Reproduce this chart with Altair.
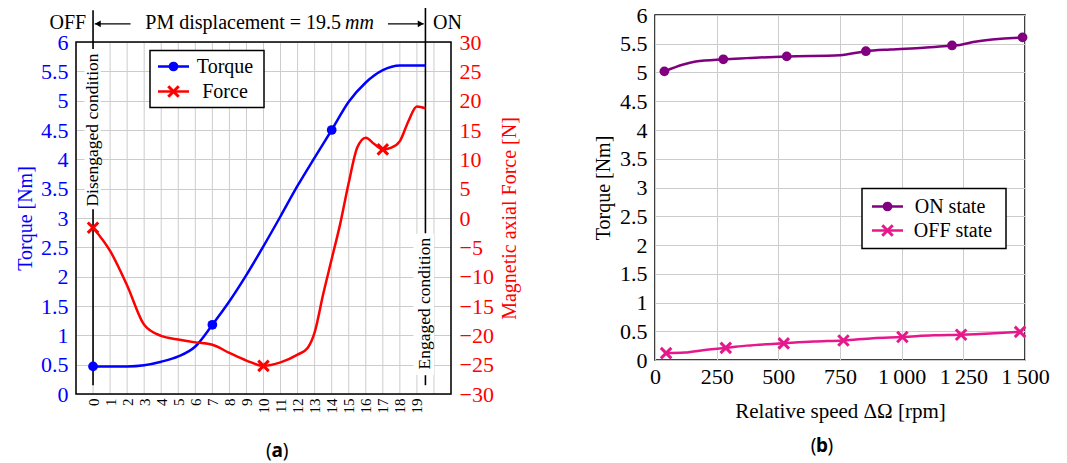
import altair as alt
import pandas as pd

FONT = "Liberation Serif"
CAP_FONT = "Noto Sans"

# ---------------- panel (a): torque / force vs PM displacement ----------------
disp_mm = [0, 1, 2, 3, 4, 5, 6, 7, 8, 9, 10, 11, 12, 13, 14, 15, 16, 17, 18, 19, 19.5]
torque_nm = [0.47, 0.47, 0.47, 0.49, 0.55, 0.64, 0.81, 1.18, 1.58, 2.03, 2.52, 3.03,
             3.55, 4.03, 4.5, 4.98, 5.31, 5.52, 5.6, 5.6, 5.6]
torque_mark_mm = [0, 7, 14]
torque_mark_nm = [0.47, 1.18, 4.5]

force_disp_mm = [0, 1, 2, 3, 4, 5, 6, 7, 8, 9, 10, 11, 12, 12.6, 13, 13.5, 14, 14.5,
                 15, 15.5, 16, 16.5, 17, 17.5, 18, 18.5, 19, 19.5]
force_n = [-1.65, -5.6, -11.5, -18.2, -20.1, -20.7, -21.2, -21.6, -23.0, -24.3, -25.2,
           -24.6, -23.3, -22.1, -19.5, -13.0, -7.0, -1.0, 6.0, 12.0, 13.7, 12.6, 11.7,
           12.0, 13.1, 16.5, 19.0, 18.7]
force_mark_mm = [0, 10, 17]
force_mark_n = [-1.65, -25.2, 11.7]

xa_ticks = [-1, 0, 1, 2, 3, 4, 5, 6, 7, 8, 9, 10, 11, 12, 13, 14, 15, 16, 17, 18, 19, 20, 21]
torque_ticks = [0, 0.5, 1, 1.5, 2, 2.5, 3, 3.5, 4, 4.5, 5, 5.5, 6]
force_ticks = [-30, -25, -20, -15, -10, -5, 0, 5, 10, 15, 20, 25, 30]

# ---------------- panel (b): torque vs relative speed ----------------
on_rpm = [38, 115, 165, 277, 372, 534, 750, 855, 953, 1088, 1204, 1236, 1290, 1490]
on_torque = [5.02, 5.14, 5.19, 5.23, 5.25, 5.28, 5.30, 5.37, 5.40, 5.43, 5.47, 5.48, 5.53, 5.61]
on_mark_rpm = [38, 277, 534, 855, 1204, 1490]
on_mark_torque = [5.02, 5.23, 5.28, 5.37, 5.47, 5.61]

off_rpm = [45, 120, 210, 287, 372, 522, 642, 764, 885, 1003, 1128, 1241, 1358, 1480]
off_torque = [0.12, 0.13, 0.18, 0.21, 0.25, 0.29, 0.32, 0.34, 0.38, 0.40, 0.43, 0.44, 0.46, 0.49]
off_mark_rpm = [45, 287, 522, 764, 1003, 1241, 1480]
off_mark_torque = [0.12, 0.21, 0.29, 0.34, 0.40, 0.44, 0.49]

xb_ticks = [0, 250, 500, 750, 1000, 1250, 1500]

BLUE = "#0000ff"
RED = "#ff0000"
PURPLE = "#800080"
MAGENTA = "#e6198c"
GRID = "#cccccc"
X_SHAPE = "M-1,-1L1,1M-1,1L1,-1"
LBL = 22

# panel (a) geometry: view is taller than the framed plot so that the
# annotation row above the frame lives inside it
A_W, A_H, A_TOP = 375, 379, 27


def one(**kw):
    return pd.DataFrame({k: [v] for k, v in kw.items()}) if kw else pd.DataFrame({"k": [0]})


# ---------- scales / axes (a) ----------
SX_A = alt.Scale(domain=[-1, 21], nice=False, zero=False)
AX_A = alt.Axis(values=xa_ticks,
                labelExpr="datum.value >= 0 && datum.value <= 19 ? datum.label : ''",
                labelAngle=270, labelFontSize=15, labelPadding=4, labelFlush=False,
                labelOverlap=False, labelColor="black", labelFont=FONT, ticks=False,
                domain=False, grid=False, title=None)
ST = alt.Scale(domain=[0, 6], nice=False, zero=False, range=[A_H, A_TOP])
AX_T = alt.Axis(orient="left", values=torque_ticks, format="~g", labelColor=BLUE,
                labelFont=FONT, labelFontSize=LBL, labelPadding=8, ticks=False, domain=False,
                grid=True, gridColor=GRID, gridWidth=1, title="Torque [Nm]", titleColor=BLUE,
                titleFont=FONT, titleFontSize=20, titlePadding=5, titleFontWeight="normal")
SF = alt.Scale(domain=[-30, 30], nice=False, zero=False, range=[A_H, A_TOP])
AX_F = alt.Axis(orient="right", values=force_ticks, format="d", labelColor=RED,
                labelFont=FONT, labelFontSize=LBL, labelPadding=8, ticks=False, domain=False,
                grid=False, title="Magnetic axial Force [N]", titleColor=RED, titleFont=FONT,
                titleFontSize=20, titlePadding=6, titleAngle=270, titleBaseline="top",
                titleFontWeight="normal")


def XA():
    return alt.X("x:Q", scale=SX_A, axis=AX_A)


def YT():
    return alt.Y("y:Q", scale=ST, axis=AX_T)


def YF():
    return alt.Y("y:Q", scale=SF, axis=AX_F)


torque_df = pd.DataFrame({"x": disp_mm, "y": torque_nm})
torque_mk = pd.DataFrame({"x": torque_mark_mm, "y": torque_mark_nm})
force_df = pd.DataFrame({"x": force_disp_mm, "y": force_n})
force_mk = pd.DataFrame({"x": force_mark_mm, "y": force_mark_n})

# vertical grid of panel (a), limited to the framed area
vgrid_df = pd.DataFrame({"x": xa_ticks, "y": [0] * len(xa_ticks), "y2": [6] * len(xa_ticks)})
vgrid = alt.Chart(vgrid_df).mark_rule(color=GRID, strokeWidth=1).encode(
    x=XA(), y=YT(), y2="y2:Q")

# vertical marker lines (OFF at 0, ON at 19.5) interrupted by labels
rule_df = pd.DataFrame({"x": [0, 0, 19.5, 19.5],
                        "y": [6.54, 0.15, 6.64, 0.15],
                        "y2": [5.88, 3.15, 2.74, 0.32]})
rules = alt.Chart(rule_df).mark_rule(color="black", strokeWidth=1.6).encode(
    x=XA(), y=YT(), y2="y2:Q")

wbox_df = pd.DataFrame({"x": [-0.5, 18.8], "x2": [0.45, 20.0],
                        "y": [3.15, 0.33], "y2": [5.88, 2.73]})
wboxes = alt.Chart(wbox_df).mark_rect(color="white").encode(
    x=XA(), x2="x2:Q", y=YT(), y2="y2:Q")

dis_txt = alt.Chart(one(x=0, y=4.5)).mark_text(
    text="Disengaged condition", angle=270, fontSize=17.5, align="center",
    baseline="middle", font=FONT).encode(x=XA(), y=YT())
eng_txt = alt.Chart(one(x=19.5, y=1.54)).mark_text(
    text="Engaged condition", angle=270, fontSize=17.5, align="center",
    baseline="middle", font=FONT).encode(x=XA(), y=YT())

top_y = 6.32
off_txt = alt.Chart(one(x=-0.4, y=top_y)).mark_text(
    text="OFF", fontSize=20, align="right", baseline="middle", font=FONT).encode(x=XA(), y=YT())
on_txt = alt.Chart(one(x=19.95, y=top_y)).mark_text(
    text="ON", fontSize=20, align="left", baseline="middle", font=FONT).encode(x=XA(), y=YT())
pm_txt = alt.Chart(one(x=14.55, y=top_y)).mark_text(
    text="PM displacement = 19.5", fontSize=20, align="right", baseline="middle",
    font=FONT).encode(x=XA(), y=YT())
mm_txt = alt.Chart(one(x=14.78, y=top_y)).mark_text(
    text="mm", fontSize=20, align="left", baseline="middle", font=FONT,
    fontStyle="italic").encode(x=XA(), y=YT())

arrow_df = pd.DataFrame({"x": [0.1, 17.3], "x2": [2.2, 19.4], "y": [6.31, 6.31]})
arrows = alt.Chart(arrow_df).mark_rule(color="black", strokeWidth=1.3).encode(
    x=XA(), x2="x2:Q", y=YT())
head_l = alt.Chart(one(x=0.28, y=6.31)).mark_point(
    shape="triangle-left", filled=True, color="black", size=45, opacity=1).encode(x=XA(), y=YT())
head_r = alt.Chart(one(x=19.22, y=6.31)).mark_point(
    shape="triangle-right", filled=True, color="black", size=45, opacity=1).encode(x=XA(), y=YT())

torque_line = alt.Chart(torque_df).mark_line(
    color=BLUE, strokeWidth=2.5, interpolate="monotone").encode(x=XA(), y=YT())
torque_pts = alt.Chart(torque_mk).mark_point(
    shape="circle", filled=True, color=BLUE, size=95, opacity=1).encode(x=XA(), y=YT())

# captions
CAP_A_Y = 435.5
cap_a = [
    alt.Chart(one(x=10.8)).mark_text(text="(", fontSize=19, align="right", dx=-5.5,
                                     baseline="middle", font=CAP_FONT)
    .encode(x=XA(), y=alt.value(CAP_A_Y)),
    alt.Chart(one(x=10.8)).mark_text(text="a", fontSize=19, align="center", fontWeight="bold",
                                     baseline="middle", font=CAP_FONT)
    .encode(x=XA(), y=alt.value(CAP_A_Y)),
    alt.Chart(one(x=10.8)).mark_text(text=")", fontSize=19, align="left", dx=5.5,
                                     baseline="middle", font=CAP_FONT)
    .encode(x=XA(), y=alt.value(CAP_A_Y)),
]

frame_a = alt.Chart(one()).mark_rect(filled=False, stroke="black", strokeWidth=1.5).encode(
    x=alt.value(0), x2=alt.value(A_W), y=alt.value(A_TOP), y2=alt.value(A_H))

# legend (a)
LA1, LA2 = 51.5, 76.5
leg_a = [
    alt.Chart(one()).mark_rect(fill="white", stroke="black", strokeWidth=1.5).encode(
        x=alt.value(74), x2=alt.value(188), y=alt.value(35.5), y2=alt.value(92.5)),
    alt.Chart(one()).mark_rule(color=BLUE, strokeWidth=2.5).encode(
        x=alt.value(82), x2=alt.value(113), y=alt.value(LA1)),
    alt.Chart(one()).mark_point(shape="circle", filled=True, color=BLUE, size=95, opacity=1).encode(
        x=alt.value(97.5), y=alt.value(LA1)),
    alt.Chart(one()).mark_text(text="Torque", fontSize=20, align="center", baseline="middle",
                               font=FONT).encode(x=alt.value(149), y=alt.value(LA1)),
    alt.Chart(one()).mark_rule(color=RED, strokeWidth=2.5).encode(
        x=alt.value(82), x2=alt.value(113), y=alt.value(LA2)),
    alt.Chart(one()).mark_point(shape=X_SHAPE, filled=False, color=RED, size=110,
                                strokeWidth=3, opacity=1).encode(
        x=alt.value(97.5), y=alt.value(LA2)),
    alt.Chart(one()).mark_text(text="Force", fontSize=20, align="center", baseline="middle",
                               font=FONT).encode(x=alt.value(149), y=alt.value(LA2)),
]

torque_group = alt.layer(
    vgrid, wboxes, rules, dis_txt, eng_txt, off_txt, on_txt, pm_txt, mm_txt, arrows,
    head_l, head_r, torque_line, torque_pts, *cap_a
)

force_line = alt.Chart(force_df).mark_line(
    color=RED, strokeWidth=2.5, interpolate="monotone").encode(x=XA(), y=YF())
force_pts = alt.Chart(force_mk).mark_point(
    shape=X_SHAPE, filled=False, color=RED, size=110, strokeWidth=3, opacity=1).encode(
    x=XA(), y=YF())
force_group = alt.layer(force_line, force_pts)

legend_a = alt.layer(frame_a, *leg_a)

panel_a = alt.layer(torque_group, force_group, legend_a).resolve_scale(
    y="independent").properties(width=A_W, height=A_H,
                                view=alt.ViewBackground(stroke="transparent"))

# ---------- panel (b) ----------
SX_B = alt.Scale(domain=[0, 1500], nice=False, zero=False)
AX_XB = alt.Axis(values=xb_ticks,
                 labelExpr="datum.value >= 1000 ? replace(format(datum.value, ','), ',', '\u2009') : datum.label",
                 labelFont=FONT, labelFontSize=LBL, labelPadding=6, labelFlush=False,
                 labelOverlap=False, labelColor="black", ticks=False, domain=False, grid=True,
                 gridColor=GRID, gridWidth=1, title="Relative speed \u0394\u03a9 [rpm]",
                 titleFont=FONT, titleFontSize=21, titlePadding=13, titleColor="black",
                 titleFontWeight="normal")
SY_B = alt.Scale(domain=[0, 6], nice=False, zero=False)
AX_YB = alt.Axis(values=torque_ticks, format="~g", labelFont=FONT, labelFontSize=LBL,
                 labelPadding=8, labelColor="black", ticks=False, domain=False, grid=True,
                 gridColor=GRID, gridWidth=1, title="Torque [Nm]", titleFont=FONT,
                 titleFontSize=20, titlePadding=6, titleColor="black",
                 titleFontWeight="normal")


def XB():
    return alt.X("x:Q", scale=SX_B, axis=AX_XB)


def YB():
    return alt.Y("y:Q", scale=SY_B, axis=AX_YB)


on_df = pd.DataFrame({"x": on_rpm, "y": on_torque})
on_mk = pd.DataFrame({"x": on_mark_rpm, "y": on_mark_torque})
off_df = pd.DataFrame({"x": off_rpm, "y": off_torque})
off_mk = pd.DataFrame({"x": off_mark_rpm, "y": off_mark_torque})

on_line = alt.Chart(on_df).mark_line(color=PURPLE, strokeWidth=2.5, interpolate="monotone").encode(
    x=XB(), y=YB())
on_pts = alt.Chart(on_mk).mark_point(shape="circle", filled=True, color=PURPLE, size=95,
                                     opacity=1).encode(x=XB(), y=YB())
off_line = alt.Chart(off_df).mark_line(color=MAGENTA, strokeWidth=2.5,
                                       interpolate="monotone").encode(x=XB(), y=YB())
off_pts = alt.Chart(off_mk).mark_point(shape=X_SHAPE, filled=False, color=MAGENTA, size=110,
                                       strokeWidth=3, opacity=1).encode(x=XB(), y=YB())

LB1, LB2 = 191.5, 215.5
leg_b = [
    alt.Chart(one()).mark_rect(fill="white", stroke="black", strokeWidth=1.5).encode(
        x=alt.value(207), x2=alt.value(351), y=alt.value(173.5), y2=alt.value(233.5)),
    alt.Chart(one()).mark_rule(color=PURPLE, strokeWidth=2.5).encode(
        x=alt.value(217), x2=alt.value(248), y=alt.value(LB1)),
    alt.Chart(one()).mark_point(shape="circle", filled=True, color=PURPLE, size=95, opacity=1).encode(
        x=alt.value(232.5), y=alt.value(LB1)),
    alt.Chart(one()).mark_text(text="ON state", fontSize=20, align="center", baseline="middle",
                               font=FONT).encode(x=alt.value(295), y=alt.value(LB1)),
    alt.Chart(one()).mark_rule(color=MAGENTA, strokeWidth=2.5).encode(
        x=alt.value(217), x2=alt.value(248), y=alt.value(LB2)),
    alt.Chart(one()).mark_point(shape=X_SHAPE, filled=False, color=MAGENTA, size=110,
                                strokeWidth=3, opacity=1).encode(
        x=alt.value(232.5), y=alt.value(LB2)),
    alt.Chart(one()).mark_text(text="OFF state", fontSize=20, align="center", baseline="middle",
                               font=FONT).encode(x=alt.value(298), y=alt.value(LB2)),
]

CAP_B_Y = 430.5
cap_b = [
    alt.Chart(one(x=677)).mark_text(text="(", fontSize=19, align="right", dx=-5.5,
                                    baseline="middle", font=CAP_FONT)
    .encode(x=XB(), y=alt.value(CAP_B_Y)),
    alt.Chart(one(x=677)).mark_text(text="b", fontSize=19, align="center", fontWeight="bold",
                                    baseline="middle", font=CAP_FONT)
    .encode(x=XB(), y=alt.value(CAP_B_Y)),
    alt.Chart(one(x=677)).mark_text(text=")", fontSize=19, align="left", dx=5.5,
                                    baseline="middle", font=CAP_FONT)
    .encode(x=XB(), y=alt.value(CAP_B_Y)),
]

panel_b = alt.layer(on_line, on_pts, off_line, off_pts, *cap_b, *leg_b).properties(
    width=370, height=345)

chart = alt.hconcat(panel_a, panel_b, spacing=71).properties(
    padding={"left": 6, "top": -6, "right": 5, "bottom": 0},
    background="white",
).configure_view(
    stroke="black", strokeWidth=1.5
).configure_axis(
    labelFont=FONT, titleFont=FONT
).configure_text(
    font=FONT, color="black"
)

chart.save("out.html", embed_options={"renderer": "svg", "actions": False})
